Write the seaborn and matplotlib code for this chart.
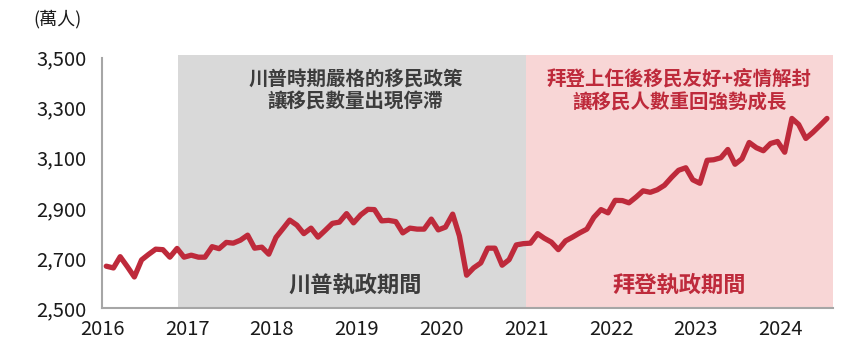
import matplotlib.pyplot as plt
import pandas as pd
import seaborn as sns

# monthly values, Jan 2016 - Jul 2024 (unit: 萬人)
start_month = "2016-01"
values = [
    2667, 2660, 2705, 2665, 2624, 2692, 2714, 2735, 2733, 2703, 2738, 2703,  # 2016
    2711, 2703, 2703, 2745, 2737, 2762, 2759, 2771, 2791, 2739, 2743, 2715,  # 2017
    2782, 2818, 2851, 2831, 2797, 2819, 2783, 2810, 2838, 2843, 2877, 2840,  # 2018
    2872, 2894, 2893, 2848, 2850, 2845, 2800, 2819, 2815, 2815, 2855, 2812,  # 2019
    2823, 2875, 2788, 2631, 2660, 2680, 2739, 2739, 2671, 2693, 2752, 2757,  # 2020
    2759, 2797, 2779, 2763, 2733, 2768, 2783, 2800, 2815, 2862, 2893, 2880,  # 2021
    2930, 2929, 2920, 2943, 2968, 2962, 2972, 2990, 3022, 3050, 3060, 3012,  # 2022
    2998, 3090, 3092, 3100, 3133, 3074, 3096, 3161, 3140, 3128, 3157, 3165,  # 2023
    3122, 3257, 3233, 3177, 3201, 3229, 3257,                                # 2024
]

# periods
trump_period = ("2016-11-23", "2021-01-01")
biden_period = ("2021-01-01", "2024-08-14")
year_ticks = list(range(2016, 2025))
y_ticks = [2500, 2700, 2900, 3100, 3300, 3500]

top_note_trump = "川普時期嚴格的移民政策\n讓移民數量出現停滯"
top_note_biden = "拜登上任後移民友好+疫情解封\n讓移民人數重回強勢成長"
label_trump = "川普執政期間"
label_biden = "拜登執政期間"

df = pd.DataFrame({
    "date": pd.date_range(start_month, periods=len(values), freq="MS") + pd.Timedelta(days=18),
    "value": values,
})

sns.set_style("white")
plt.rcParams["font.family"] = ["Noto Sans CJK TC", "DejaVu Sans"]

red = "#BE2A3B"
dark = "#3C3C3C"
axis_gray = "#A6A6A6"

fig = plt.figure(figsize=(8.65, 3.59), dpi=100)
ax = fig.add_axes([0.118, 0.142, 0.845, 0.706])

ax.axvspan(pd.Timestamp(trump_period[0]), pd.Timestamp(trump_period[1]),
           color="#D9D9D9", lw=0, zorder=0)
ax.axvspan(pd.Timestamp(biden_period[0]), pd.Timestamp(biden_period[1]),
           color="#F8D6D6", lw=0, zorder=0)

sns.lineplot(data=df, x="date", y="value", ax=ax, color=red, lw=3.8,
             solid_capstyle="round", solid_joinstyle="round", zorder=3)

ax.set_xlim(pd.Timestamp("2016-01-01"), pd.Timestamp(biden_period[1]))
ax.set_ylim(2500, 3512)
ax.set_xticks([pd.Timestamp(f"{y}-01-01") for y in year_ticks])
ax.set_xticklabels([str(y) for y in year_ticks])
ax.set_yticks(y_ticks)
ax.set_yticklabels([f"{v:,}" for v in y_ticks])
ax.set_xlabel("")
ax.set_ylabel("")

for s in ["top", "right"]:
    ax.spines[s].set_visible(False)
for s in ["left", "bottom"]:
    ax.spines[s].set_color(axis_gray)
    ax.spines[s].set_linewidth(1.5)
ax.spines["left"].set_bounds(2500, 3500)
ax.tick_params(axis="both", which="both", length=5, width=1.5, color=axis_gray,
               labelsize=14.5, labelcolor="#1A1A1A", direction="out")
ax.tick_params(axis="y", pad=6)
ax.tick_params(axis="x", pad=3)

mid_trump = pd.Timestamp("2018-12-28")
mid_biden = pd.Timestamp("2022-10-22")
ax.text(mid_trump, 3368, top_note_trump, ha="center", va="center", fontsize=14,
        color=dark, fontweight="bold", linespacing=1.3)
ax.text(mid_biden, 3368, top_note_biden, ha="center", va="center", fontsize=14,
        color=red, fontweight="bold", linespacing=1.3)
ax.text(mid_trump, 2592, label_trump, ha="center", va="center", fontsize=16,
        color=dark, fontweight="bold")
ax.text(mid_biden, 2592, label_biden, ha="center", va="center", fontsize=16,
        color=red, fontweight="bold")

fig.text(0.066, 0.948, "(萬人)", ha="center", va="center", fontsize=13, color="#1A1A1A")

fig.savefig("out.png", dpi=100)
